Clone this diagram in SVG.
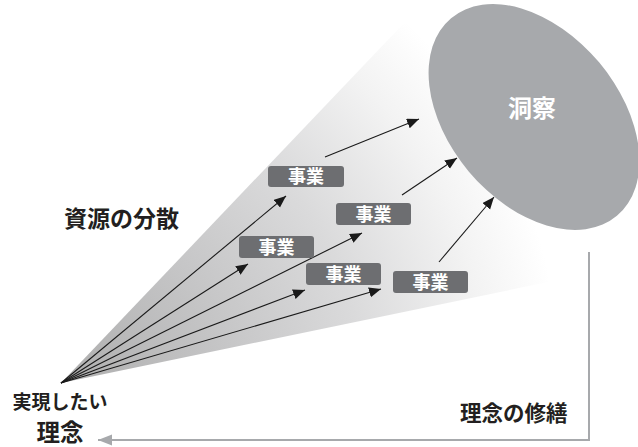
<svg xmlns="http://www.w3.org/2000/svg" width="638" height="447" viewBox="0 0 638 447">
<style>
.lbl{font-family:"Noto Sans CJK JP","Noto Sans",sans-serif;font-weight:bold;fill:#231f20}
.box{fill:#6d6e71}
.bt{font-family:"Noto Sans CJK JP","Noto Sans",sans-serif;font-weight:bold;font-size:18px;fill:#ffffff;text-anchor:middle}
.ar{stroke:#1a1a1a;stroke-width:1.1;fill:none;marker-end:url(#ah)}
</style>
<defs>
<radialGradient id="cone" gradientUnits="userSpaceOnUse" cx="61" cy="383" r="500">
<stop offset="0" stop-color="#aeaeae"/>
<stop offset="0.3" stop-color="#c3c3c4"/>
<stop offset="0.6" stop-color="#dadadb"/>
<stop offset="0.85" stop-color="#f3f3f3"/>
<stop offset="1" stop-color="#ffffff"/>
</radialGradient>
<marker id="ah" markerUnits="userSpaceOnUse" markerWidth="14" markerHeight="12" refX="12" refY="5" orient="auto">
<path d="M0,0 L12,5 L0,10 Z" fill="#1a1a1a"/>
</marker>
<marker id="gh" markerUnits="userSpaceOnUse" markerWidth="16" markerHeight="12" refX="14" refY="5.5" orient="auto">
<path d="M0,0 L14,5.5 L0,11 Z" fill="#a7a9ac"/>
</marker>
</defs>
<polygon points="61,383 405,22 560,120 548,282" fill="url(#cone)"/>
<g id="insight">
<ellipse cx="534" cy="117" rx="129" ry="85" transform="rotate(50 534 117)" fill="#a7a9ac"/>
<text x="532" y="117" class="bt" style="font-size:24px">洞察</text>
</g>
<g id="connectors">
<line class="ar" x1="61" y1="383" x2="286" y2="196"/>
<line class="ar" x1="61" y1="383" x2="248" y2="264"/>
<line class="ar" x1="61" y1="383" x2="362" y2="233"/>
<line class="ar" x1="61" y1="383" x2="305" y2="290"/>
<line class="ar" x1="61" y1="383" x2="381" y2="289"/>
<line class="ar" x1="325" y1="157" x2="419" y2="119"/>
<line class="ar" x1="402" y1="195" x2="457" y2="158"/>
<line class="ar" x1="439" y1="262" x2="494" y2="197"/>
<polyline points="589,252 589,440 98,440" fill="none" stroke="#a7a9ac" stroke-width="2" marker-end="url(#gh)"/>
</g>
<g id="biz1"><rect class="box" x="268" y="166" width="76" height="21" rx="3"/><text class="bt" x="306" y="183">事業</text></g>
<g id="biz2"><rect class="box" x="336" y="203" width="75" height="22" rx="3"/><text class="bt" x="373.5" y="220.5">事業</text></g>
<g id="biz3"><rect class="box" x="239" y="236" width="75" height="22" rx="3"/><text class="bt" x="276.5" y="253.5">事業</text></g>
<g id="biz4"><rect class="box" x="306" y="263" width="75" height="22" rx="3"/><text class="bt" x="343.5" y="280.5">事業</text></g>
<g id="biz5"><rect class="box" x="393" y="271" width="75" height="22" rx="3"/><text class="bt" x="430.5" y="288.5">事業</text></g>
<g id="dispersion"><text class="lbl" x="64" y="226.5" style="font-size:23px">資源の分散</text></g>
<g id="ideal"><text class="lbl" x="60" y="409" style="font-size:19px" text-anchor="middle">実現したい</text><text class="lbl" x="60" y="440.5" style="font-size:23.5px" text-anchor="middle">理念</text></g>
<g id="repair"><text class="lbl" x="460" y="421" style="font-size:21.5px">理念の修繕</text></g>
</svg>
